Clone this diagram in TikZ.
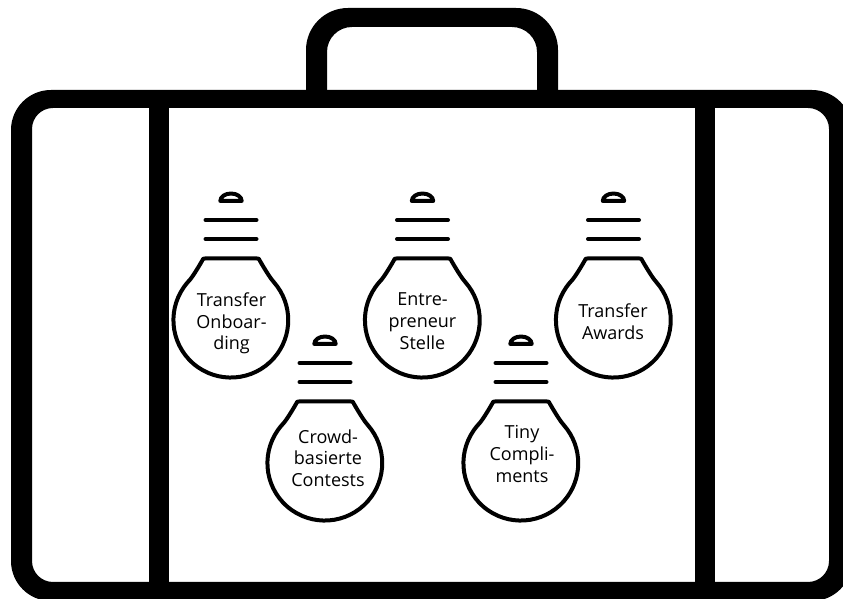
\documentclass[tikz,border=0pt]{standalone}
\usepackage{fontspec}
\setmainfont{Open Sans}
\tikzset{
  bulbtext/.style={align=center,font=\fontsize{18}{21.7}\selectfont,inner sep=0pt},
  bulbline/.style={line width=4pt,line join=round,line cap=round},
  bulb/.pic={
    \draw[bulbline,fill=white] (-43.5,37.5) arc (139:401:57.4) .. controls (40,41) and (36,47) .. (29,59) .. controls (28,61.5) .. (26,61.5) -- (-26,61.5) .. controls (-28,61.5) .. (-29,59) .. controls (-36,47) and (-40,41) .. cycle;
    \draw[bulbline] (-25.5,100) -- (25.5,100);
    \draw[bulbline] (-25.5,81) -- (25.5,81);
    \draw[line width=4pt,line join=round] (-10.7,119) arc (180:0:10.7 and 7.5) -- cycle;
  }
}

\begin{document}
\begin{tikzpicture}[x=1pt,y=1pt]
    \clip (0,0) rectangle (843,599);
    \fill[white] (0,0) rectangle (843,599);

    % case
    \fill[even odd rule,black] [rounded corners=40pt] (11,-2) rectangle (852,509) [rounded corners=21pt] (32,17) rectangle (829,491);
    % handle
    \fill (306,500) [rounded corners=42pt] -- (306,591) -- (558,591) [sharp corners] -- (558,500) -- (537,500) [rounded corners=25pt] -- (537,572) -- (327,572) [sharp corners] -- (327,500) -- cycle;
    % straps
    \fill (149,17) rectangle (169,491);
    \fill (695,17) rectangle (715,491);

    \pic at (231,279) {bulb};
    \pic at (422.5,279) {bulb};
    \pic at (613.5,279) {bulb};
    \pic at (325,136) {bulb};
    \pic at (521,136) {bulb};

    \node[bulbtext] (onb) at (231.5,275.5) {Transfer\\Onboar-\\ding};
    \node[bulbtext] (ent) at (422.5,278) {Entre-\\preneur\\Stelle};
    \node[bulbtext] (awa) at (613,277) {Transfer\\Awards};
    \node[bulbtext] (cro) at (328,141) {Crowd-\\basierte\\Contests};
    \node[bulbtext] (tin) at (522,145) {Tiny\\Compli-\\ments};
\end{tikzpicture}
\end{document}
